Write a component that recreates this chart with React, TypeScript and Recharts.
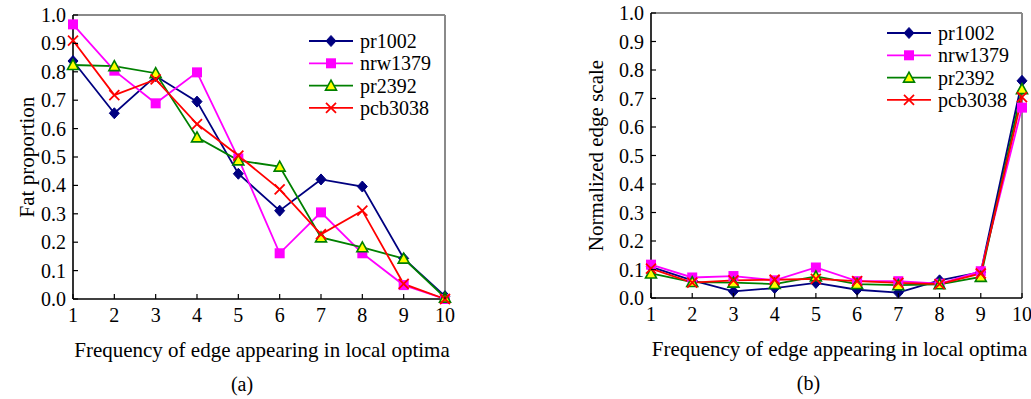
import { LineChart, Line, XAxis, YAxis, Legend, ReferenceLine, Label } from 'recharts';

// x categories: frequency of edge appearing in local optima
const FREQ = [1, 2, 3, 4, 5, 6, 7, 8, 9, 10];
const Y_TICKS = [0, 0.1, 0.2, 0.3, 0.4, 0.5, 0.6, 0.7, 0.8, 0.9, 1.0];

// (a) Fat proportion
const fatPr1002 = [0.838, 0.654, 0.785, 0.695, 0.441, 0.311, 0.421, 0.396, 0.143, 0.01];
const fatNrw1379 = [0.967, 0.804, 0.689, 0.798, 0.495, 0.161, 0.305, 0.161, 0.049, 0.0];
const fatPr2392 = [0.824, 0.82, 0.795, 0.569, 0.488, 0.466, 0.217, 0.182, 0.142, 0.005];
const fatPcb3038 = [0.91, 0.718, 0.773, 0.616, 0.505, 0.386, 0.228, 0.311, 0.053, 0.0];

// (b) Normalized edge scale
const scalePr1002 = [0.109, 0.062, 0.023, 0.035, 0.053, 0.029, 0.019, 0.062, 0.091, 0.762];
const scaleNrw1379 = [0.117, 0.072, 0.077, 0.062, 0.107, 0.059, 0.059, 0.05, 0.094, 0.668];
const scalePr2392 = [0.086, 0.056, 0.054, 0.049, 0.076, 0.049, 0.045, 0.048, 0.074, 0.733];
const scalePcb3038 = [0.103, 0.054, 0.062, 0.064, 0.067, 0.059, 0.053, 0.049, 0.086, 0.705];

const FONT = '"Liberation Serif", "Times New Roman", serif';

const SERIES = [
  { key: 'pr1002', color: '#000080', marker: 'diamond' },
  { key: 'nrw1379', color: '#FF00FF', marker: 'square' },
  { key: 'pr2392', color: '#008000', marker: 'triangle' },
  { key: 'pcb3038', color: '#FF0000', marker: 'cross' },
];

const buildRows = (a: number[], b: number[], c: number[], d: number[]) =>
  FREQ.map((x, i) => ({ x, pr1002: a[i], nrw1379: b[i], pr2392: c[i], pcb3038: d[i] }));

const fatData = buildRows(fatPr1002, fatNrw1379, fatPr2392, fatPcb3038);
const scaleData = buildRows(scalePr1002, scaleNrw1379, scalePr2392, scalePcb3038);

const Marker = ({ kind, cx, cy }: { kind: string; cx: number; cy: number }) => {
  if (cx == null || cy == null) return <g />;
  switch (kind) {
    case 'diamond':
      return (
        <polygon
          points={`${cx},${cy - 5.5} ${cx + 5},${cy} ${cx},${cy + 5.5} ${cx - 5},${cy}`}
          fill="#000080"
          stroke="#000080"
        />
      );
    case 'square':
      return <rect x={cx - 5} y={cy - 5} width={10} height={10} fill="#FF00FF" />;
    case 'triangle':
      return (
        <polygon
          points={`${cx},${cy - 5.5} ${cx + 5.5},${cy + 4.5} ${cx - 5.5},${cy + 4.5}`}
          fill="#FFFF00"
          stroke="#008000"
          strokeWidth={1.6}
        />
      );
    default:
      return (
        <g stroke="#FF0000" strokeWidth={1.8}>
          <line x1={cx - 5} y1={cy - 5} x2={cx + 5} y2={cy + 5} />
          <line x1={cx - 5} y1={cy + 5} x2={cx + 5} y2={cy - 5} />
        </g>
      );
  }
};

const XTick = (props: any) => {
  const { x, y, payload } = props;
  return (
    <g>
      <line x1={x} y1={y} x2={x} y2={y - 5} stroke="#000" strokeWidth={1.2} />
      <text x={x} y={y + 23} textAnchor="middle" fontSize={20} fontFamily={FONT} fill="#000">
        {payload.value}
      </text>
    </g>
  );
};

const YTick = (props: any) => {
  const { x, y, payload } = props;
  return (
    <g>
      <line x1={x} y1={y} x2={x + 5} y2={y} stroke="#000" strokeWidth={1.2} />
      <text x={x - 7} y={y + 7} textAnchor="end" fontSize={20} fontFamily={FONT} fill="#000">
        {Number(payload.value).toFixed(1)}
      </text>
    </g>
  );
};

const LegendBox = () => (
  <svg width={140} height={96} style={{ overflow: 'visible' }}>
    {SERIES.map((s, i) => {
      const cy = 11 + i * 22.3;
      return (
        <g key={s.key}>
          <line x1={0} y1={cy} x2={44} y2={cy} stroke={s.color} strokeWidth={1.8} />
          <Marker kind={s.marker} cx={22} cy={cy} />
          <text x={51} y={cy + 7} fontSize={20} fontFamily={FONT} fill="#000">
            {s.key}
          </text>
        </g>
      );
    })}
  </svg>
);

type PanelProps = {
  data: any[];
  left: number;
  width: number;
  margin: { top: number; right: number; left: number; bottom: number };
  yAxisWidth: number;
  xAxisHeight: number;
  yLabel: string;
  yLabelX: number;
  caption: string;
  captionShift: number;
  legendLeft: number;
  legendTop: number;
};

const Panel = (p: PanelProps) => (
  <div style={{ position: 'absolute', left: p.left, top: 0 }}>
    <LineChart width={p.width} height={399} data={p.data} margin={p.margin}>
      <XAxis
        type="number"
        dataKey="x"
        domain={[1, 10]}
        ticks={FREQ}
        interval={0}
        height={p.xAxisHeight}
        axisLine={{ stroke: '#000', strokeWidth: 1.6 }}
        tickLine={false}
        tickSize={0}
        tickMargin={0}
        tick={<XTick />}
      >
        <Label
          content={(lp: any) => {
            const vb = lp.viewBox;
            const cx = vb.x + vb.width / 2;
            return (
              <g fontFamily={FONT} fill="#000">
                <text x={cx + 3} y={vb.y + 58} textAnchor="middle" fontSize={21}>
                  Frequency of edge appearing in local optima
                </text>
                <text x={cx + p.captionShift} y={vb.y + 92} textAnchor="middle" fontSize={20}>
                  {p.caption}
                </text>
              </g>
            );
          }}
        />
      </XAxis>
      <YAxis
        type="number"
        domain={[0, 1]}
        ticks={Y_TICKS}
        interval={0}
        width={p.yAxisWidth}
        axisLine={{ stroke: '#000', strokeWidth: 1.6 }}
        tickLine={false}
        tickSize={0}
        tickMargin={0}
        tick={<YTick />}
      >
        <Label
          content={(lp: any) => {
            const vb = lp.viewBox;
            const x = vb.x + p.yLabelX;
            const y = vb.y + vb.height / 2;
            return (
              <text
                x={x}
                y={y}
                transform={`rotate(-90, ${x}, ${y})`}
                textAnchor="middle"
                dominantBaseline="central"
                fontSize={21}
                fontFamily={FONT}
                fill="#000"
              >
                {p.yLabel}
              </text>
            );
          }}
        />
      </YAxis>
      <ReferenceLine y={1} stroke="#8a8a8a" strokeWidth={2} />
      <ReferenceLine x={10} stroke="#8a8a8a" strokeWidth={2} />
      <Legend
        layout="horizontal"
        verticalAlign="middle"
        align="center"
        wrapperStyle={{ position: 'absolute', top: p.legendTop, left: p.legendLeft, width: 140, height: 96 }}
        content={() => <LegendBox />}
      />
      {SERIES.map((s) => (
        <Line
          key={s.key}
          type="linear"
          dataKey={s.key}
          name={s.key}
          stroke={s.color}
          strokeWidth={1.8}
          dot={(d: any) => <Marker key={`${s.key}-${d.index}`} kind={s.marker} cx={d.cx} cy={d.cy} />}
          activeDot={false}
          isAnimationActive={false}
        />
      ))}
    </LineChart>
  </div>
);

const App = () => (
  <div style={{ position: 'absolute', left: 0, top: 0, width: 1031, height: 399, background: '#fff', fontFamily: FONT }}>
    <Panel
      data={fatData}
      left={0}
      width={460}
      margin={{ top: 15, right: 15, left: 0, bottom: 0 }}
      yAxisWidth={73}
      xAxisHeight={100}
      yLabel="Fat proportion"
      yLabelX={27}
      caption="(a)"
      captionShift={-17}
      legendLeft={309}
      legendTop={30}
    />
    <Panel
      data={scaleData}
      left={560}
      width={471}
      margin={{ top: 13, right: 9, left: 0, bottom: 0 }}
      yAxisWidth={91}
      xAxisHeight={101}
      yLabel="Normalized edge scale"
      yLabelX={36}
      caption="(b)"
      captionShift={-28}
      legendLeft={327}
      legendTop={22}
    />
  </div>
);

export default App;
